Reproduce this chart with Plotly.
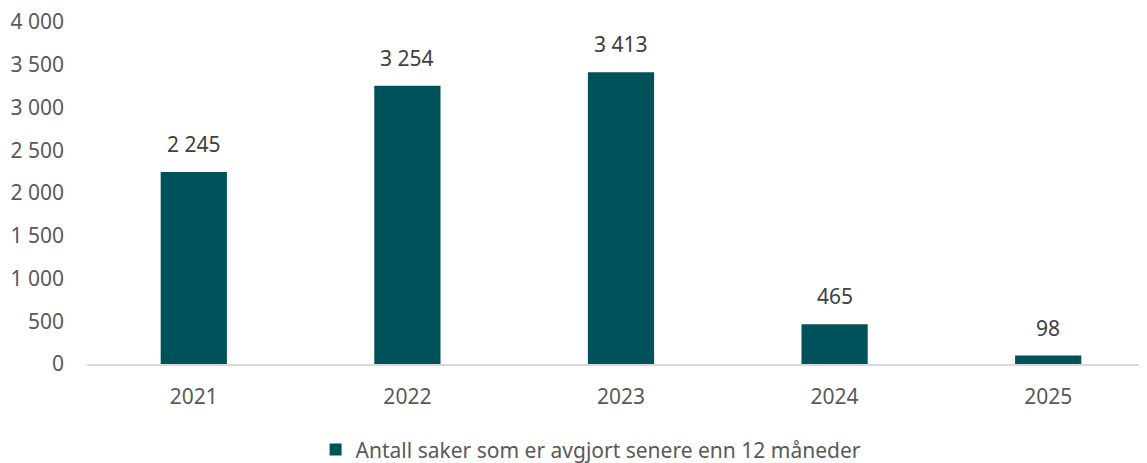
import plotly.graph_objects as go

years = ["2021", "2022", "2023", "2024", "2025"]
cases = [2245, 3254, 3413, 465, 98]
series_name = "Antall saker som er avgjort senere enn 12 måneder"

bar_color = "#00525A"
text_color = "#595959"
label_color = "#404040"
font_family = "Noto Sans, sans-serif"


def fmt(v):
    return f"{v:,}".replace(",", " ")


fig = go.Figure()
fig.add_trace(
    go.Bar(
        x=years,
        y=cases,
        name=series_name,
        marker=dict(color=bar_color, line=dict(width=0)),
        width=0.31,
        showlegend=True,
    )
)

# value labels above each bar (category index as x)
for i, v in enumerate(cases):
    fig.add_annotation(
        x=i, y=v, text=fmt(v), showarrow=False,
        yanchor="bottom", yshift=12,
        font=dict(family=font_family, size=21, color=label_color),
    )

fig.update_layout(
    width=1147,
    height=463,
    margin=dict(l=79, r=0, t=14, b=107),
    paper_bgcolor="white",
    plot_bgcolor="white",
    separators=", ",
    font=dict(family=font_family, size=21, color=text_color),
    showlegend=True,
    legend=dict(
        orientation="h",
        x=0.472,
        xanchor="center",
        y=-0.251,
        yanchor="middle",
        font=dict(family=font_family, size=21, color=text_color),
        itemwidth=30,
    ),
)
fig.update_xaxes(
    type="category",
    range=[-0.5, 4.5],
    showgrid=False,
    showline=True,
    linecolor="#D9D9D9",
    linewidth=2,
    ticks="",
    ticklabelstandoff=13,
    automargin=False,
)
fig.update_yaxes(
    range=[0, 4000],
    dtick=500,
    tickformat=",d",
    showgrid=False,
    zeroline=False,
    showline=False,
    ticks="",
    ticklabelstandoff=22,
    ticklabeloverflow="allow",
    automargin=False,
)

fig.write_html("out.html")
